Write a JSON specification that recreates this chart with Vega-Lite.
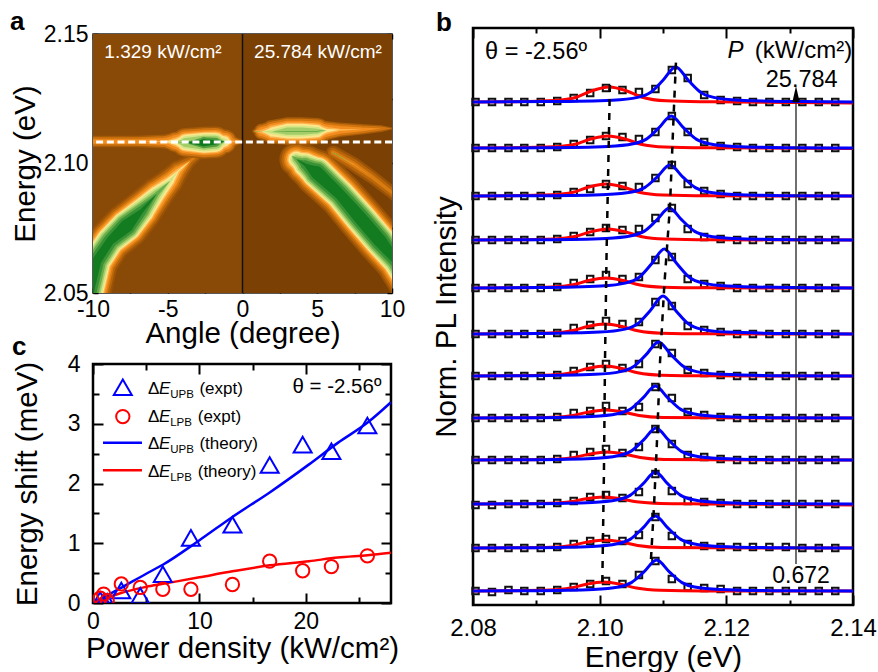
{"$schema":"https://vega.github.io/schema/vega-lite/v6.json","background":"white","padding":{"left":9,"top":8,"right":0,"bottom":0},
"config":{"font":"Liberation Sans","axis":{"labelColor":"#000","titleColor":"#000","labelFontSize":23,"titleFontSize":29.5,"titleFontWeight":"normal","tickColor":"#000","grid":false,"domain":false,"tickWidth":2,"labelOverlap":false,"labelBound":false,"labelFlush":false,"zindex":1},"text":{"color":"#000","font":"Liberation Sans"}},
"datasets":{
"one":[{"n":1}],
"low":[
{"b":"L","A":-10.6,"En":2.041,"w":0.9},{"b":"L","A":-9.75,"En":2.0624,"w":0.92},{"b":"L","A":-8.86,"En":2.0701,"w":0.9},{"b":"L","A":-7.75,"En":2.0759,"w":1},{"b":"L","A":-6.74,"En":2.0817,"w":0.82},{"b":"L","A":-5.74,"En":2.0882,"w":0.6},{"b":"L","A":-4.85,"En":2.0932,"w":0.42},{"b":"L","A":-4.3,"En":2.0971,"w":0.3},{"b":"L","A":-3.5,"En":2.101,"w":0.14},{"b":"L","A":-2.64,"En":2.1048,"w":0.1},
{"b":"G","A":6.05,"En":2.1042,"w":0.16},{"b":"G","A":7.4,"En":2.0998,"w":0.17},{"b":"G","A":8.73,"En":2.0945,"w":0.15},{"b":"G","A":9.87,"En":2.0894,"w":0.14},{"b":"G","A":10.5,"En":2.086,"w":0.12},
{"b":"R","A":3.05,"En":2.1035,"w":0.05},{"b":"R","A":3.3,"En":2.1029,"w":0.3},{"b":"R","A":3.6,"En":2.1016,"w":0.6},{"b":"R","A":4.2,"En":2.0995,"w":0.8},{"b":"R","A":4.96,"En":2.0965,"w":1},{"b":"R","A":6.52,"En":2.0881,"w":0.95},{"b":"R","A":7.86,"En":2.0791,"w":1},{"b":"R","A":9.2,"En":2.0701,"w":1},{"b":"R","A":10.3,"En":2.0624,"w":0.9},{"b":"R","A":11.2,"En":2.054,"w":0.9}],
"up":[
{"b":"L","A":-10.2,"En":2.1085,"w":0.22},{"b":"L","A":-7,"En":2.1085,"w":0.22},{"b":"L","A":-5.2,"En":2.1085,"w":0.28},{"b":"L","A":-4.5,"En":2.1083,"w":0.5},{"b":"L","A":-3.8,"En":2.1081,"w":0.85},{"b":"L","A":-2.6,"En":2.108,"w":1},{"b":"L","A":-1.8,"En":2.1082,"w":0.97},{"b":"L","A":-1.2,"En":2.1085,"w":0.65},{"b":"L","A":-0.8,"En":2.1085,"w":0.3},{"b":"L","A":-0.2,"En":2.1085,"w":0.1},
{"b":"R","A":0.8,"En":2.1125,"w":0.08},{"b":"R","A":1.3,"En":2.1123,"w":0.35},{"b":"R","A":2,"En":2.1122,"w":0.62},{"b":"R","A":3,"En":2.1125,"w":0.8},{"b":"R","A":4,"En":2.1125,"w":0.8},{"b":"R","A":5,"En":2.1125,"w":0.72},{"b":"R","A":5.6,"En":2.1127,"w":0.45},{"b":"R","A":6.5,"En":2.113,"w":0.3},{"b":"R","A":8,"En":2.1132,"w":0.2},{"b":"R","A":9.3,"En":2.1135,"w":0.12},{"b":"R","A":10,"En":2.1135,"w":0.05}],
"expt":[
{"p":0.672,"u":0.05,"l":0.08},{"p":1,"u":0.02,"l":0.15},{"p":1.33,"u":0.02,"l":0.04},{"p":2.66,"u":0.21,"l":0.32},{"p":4.44,"u":0.12,"l":0.26},{"p":6.56,"u":0.48,"l":0.23},{"p":9.2,"u":1.09,"l":0.23},{"p":13.1,"u":1.31,"l":0.31},{"p":16.6,"u":2.31,"l":0.7},{"p":19.7,"u":2.65,"l":0.54},{"p":22.4,"u":2.54,"l":0.61},{"p":25.78,"u":2.97,"l":0.79}],
"theory":[
{"p":0,"u":0,"l":0},{"p":2.5,"u":0.24,"l":0.16},{"p":5,"u":0.49,"l":0.27},{"p":6.56,"u":0.64,"l":0.32},{"p":10,"u":1.05,"l":0.43},{"p":13.1,"u":1.44,"l":0.53},{"p":16.6,"u":1.85,"l":0.63},{"p":20.3,"u":2.32,"l":0.7},{"p":23,"u":2.68,"l":0.76},{"p":25.8,"u":3.02,"l":0.8},{"p":28,"u":3.36,"l":0.84}],
"keys":[{"p":5.16,"y":3.58,"t":"Δ","s":"UPB","x2":7.25,"tail":"(expt)","x3":10},{"p":5.16,"y":3.12,"t":"Δ","s":"LPB","x2":7.25,"tail":"(expt)","x3":9.84},{"p":5.16,"y":2.66,"t":"Δ","s":"UPB","x2":7.25,"tail":"(theory)","x3":10},{"p":5.16,"y":2.2,"t":"Δ","s":"LPB","x2":7.25,"tail":"(theory)","x3":9.84}],
"sq":[
{"E":2.0804,"y":5.03},{"E":2.083,"y":5.03},{"E":2.0856,"y":5.03},{"E":2.0881,"y":5.03},{"E":2.0907,"y":5.03},{"E":2.0933,"y":5.04},{"E":2.0959,"y":5.07},{"E":2.0985,"y":5.12},{"E":2.101,"y":5.17},{"E":2.1036,"y":5.15},{"E":2.1062,"y":5.13},{"E":2.1088,"y":5.16},{"E":2.1114,"y":5.35},{"E":2.1139,"y":5.27},{"E":2.1165,"y":5.1},{"E":2.1191,"y":5.05},{"E":2.1217,"y":5.04},{"E":2.1242,"y":5.03},{"E":2.1268,"y":5.03},{"E":2.1294,"y":5.03},{"E":2.132,"y":5.03},{"E":2.1346,"y":5.03},{"E":2.1372,"y":5.03},
{"E":2.0804,"y":4.57},{"E":2.083,"y":4.57},{"E":2.0856,"y":4.57},{"E":2.0881,"y":4.57},{"E":2.0907,"y":4.57},{"E":2.0933,"y":4.58},{"E":2.0959,"y":4.61},{"E":2.0985,"y":4.65},{"E":2.101,"y":4.69},{"E":2.1036,"y":4.68},{"E":2.1062,"y":4.66},{"E":2.1088,"y":4.73},{"E":2.1114,"y":4.89},{"E":2.1139,"y":4.73},{"E":2.1165,"y":4.63},{"E":2.1191,"y":4.59},{"E":2.1217,"y":4.58},{"E":2.1242,"y":4.57},{"E":2.1268,"y":4.57},{"E":2.1294,"y":4.57},{"E":2.132,"y":4.57},{"E":2.1346,"y":4.57},{"E":2.1372,"y":4.57},
{"E":2.0804,"y":4.09},{"E":2.083,"y":4.09},{"E":2.0856,"y":4.09},{"E":2.0881,"y":4.09},{"E":2.0907,"y":4.09},{"E":2.0933,"y":4.1},{"E":2.0959,"y":4.13},{"E":2.0985,"y":4.16},{"E":2.101,"y":4.21},{"E":2.1036,"y":4.19},{"E":2.1062,"y":4.18},{"E":2.1088,"y":4.27},{"E":2.1114,"y":4.4},{"E":2.1139,"y":4.21},{"E":2.1165,"y":4.14},{"E":2.1191,"y":4.11},{"E":2.1217,"y":4.09},{"E":2.1242,"y":4.09},{"E":2.1268,"y":4.09},{"E":2.1294,"y":4.09},{"E":2.132,"y":4.09},{"E":2.1346,"y":4.09},{"E":2.1372,"y":4.09},
{"E":2.0804,"y":3.65},{"E":2.083,"y":3.65},{"E":2.0856,"y":3.65},{"E":2.0881,"y":3.65},{"E":2.0907,"y":3.65},{"E":2.0933,"y":3.66},{"E":2.0959,"y":3.69},{"E":2.0985,"y":3.73},{"E":2.101,"y":3.77},{"E":2.1036,"y":3.75},{"E":2.1062,"y":3.76},{"E":2.1088,"y":3.87},{"E":2.1114,"y":3.97},{"E":2.1139,"y":3.76},{"E":2.1165,"y":3.68},{"E":2.1191,"y":3.66},{"E":2.1217,"y":3.65},{"E":2.1242,"y":3.65},{"E":2.1268,"y":3.65},{"E":2.1294,"y":3.65},{"E":2.132,"y":3.65},{"E":2.1346,"y":3.65},{"E":2.1372,"y":3.65},
{"E":2.0804,"y":3.17},{"E":2.083,"y":3.17},{"E":2.0856,"y":3.17},{"E":2.0881,"y":3.17},{"E":2.0907,"y":3.17},{"E":2.0933,"y":3.18},{"E":2.0959,"y":3.22},{"E":2.0985,"y":3.26},{"E":2.101,"y":3.3},{"E":2.1036,"y":3.26},{"E":2.1062,"y":3.28},{"E":2.1088,"y":3.45},{"E":2.1114,"y":3.48},{"E":2.1139,"y":3.26},{"E":2.1165,"y":3.21},{"E":2.1191,"y":3.19},{"E":2.1217,"y":3.17},{"E":2.1242,"y":3.17},{"E":2.1268,"y":3.17},{"E":2.1294,"y":3.17},{"E":2.132,"y":3.17},{"E":2.1346,"y":3.17},{"E":2.1372,"y":3.17},
{"E":2.0804,"y":2.71},{"E":2.083,"y":2.71},{"E":2.0856,"y":2.71},{"E":2.0881,"y":2.71},{"E":2.0907,"y":2.71},{"E":2.0933,"y":2.72},{"E":2.0959,"y":2.77},{"E":2.0985,"y":2.8},{"E":2.101,"y":2.84},{"E":2.1036,"y":2.81},{"E":2.1062,"y":2.83},{"E":2.1088,"y":3.03},{"E":2.1114,"y":2.99},{"E":2.1139,"y":2.79},{"E":2.1165,"y":2.75},{"E":2.1191,"y":2.73},{"E":2.1217,"y":2.71},{"E":2.1242,"y":2.71},{"E":2.1268,"y":2.71},{"E":2.1294,"y":2.71},{"E":2.132,"y":2.71},{"E":2.1346,"y":2.71},{"E":2.1372,"y":2.71},
{"E":2.0804,"y":2.29},{"E":2.083,"y":2.29},{"E":2.0856,"y":2.29},{"E":2.0881,"y":2.29},{"E":2.0907,"y":2.29},{"E":2.0933,"y":2.3},{"E":2.0959,"y":2.34},{"E":2.0985,"y":2.38},{"E":2.101,"y":2.41},{"E":2.1036,"y":2.37},{"E":2.1062,"y":2.41},{"E":2.1088,"y":2.61},{"E":2.1114,"y":2.52},{"E":2.1139,"y":2.35},{"E":2.1165,"y":2.32},{"E":2.1191,"y":2.3},{"E":2.1217,"y":2.29},{"E":2.1242,"y":2.29},{"E":2.1268,"y":2.29},{"E":2.1294,"y":2.29},{"E":2.132,"y":2.29},{"E":2.1346,"y":2.29},{"E":2.1372,"y":2.29},
{"E":2.0804,"y":1.87},{"E":2.083,"y":1.87},{"E":2.0856,"y":1.87},{"E":2.0881,"y":1.87},{"E":2.0907,"y":1.87},{"E":2.0933,"y":1.88},{"E":2.0959,"y":1.92},{"E":2.0985,"y":1.94},{"E":2.101,"y":1.99},{"E":2.1036,"y":1.94},{"E":2.1062,"y":1.98},{"E":2.1088,"y":2.18},{"E":2.1114,"y":2.07},{"E":2.1139,"y":1.93},{"E":2.1165,"y":1.9},{"E":2.1191,"y":1.88},{"E":2.1217,"y":1.87},{"E":2.1242,"y":1.87},{"E":2.1268,"y":1.87},{"E":2.1294,"y":1.87},{"E":2.132,"y":1.87},{"E":2.1346,"y":1.87},{"E":2.1372,"y":1.87},
{"E":2.0804,"y":1.45},{"E":2.083,"y":1.45},{"E":2.0856,"y":1.45},{"E":2.0881,"y":1.45},{"E":2.0907,"y":1.45},{"E":2.0933,"y":1.46},{"E":2.0959,"y":1.5},{"E":2.0985,"y":1.53},{"E":2.101,"y":1.56},{"E":2.1036,"y":1.52},{"E":2.1062,"y":1.58},{"E":2.1088,"y":1.76},{"E":2.1114,"y":1.61},{"E":2.1139,"y":1.5},{"E":2.1165,"y":1.48},{"E":2.1191,"y":1.46},{"E":2.1217,"y":1.45},{"E":2.1242,"y":1.45},{"E":2.1268,"y":1.45},{"E":2.1294,"y":1.45},{"E":2.132,"y":1.45},{"E":2.1346,"y":1.45},{"E":2.1372,"y":1.45},
{"E":2.0804,"y":1},{"E":2.083,"y":1},{"E":2.0856,"y":1.01},{"E":2.0881,"y":1.01},{"E":2.0907,"y":1.01},{"E":2.0933,"y":1.02},{"E":2.0959,"y":1.04},{"E":2.0985,"y":1.08},{"E":2.101,"y":1.1},{"E":2.1036,"y":1.07},{"E":2.1062,"y":1.13},{"E":2.1088,"y":1.31},{"E":2.1114,"y":1.14},{"E":2.1139,"y":1.04},{"E":2.1165,"y":1.03},{"E":2.1191,"y":1.02},{"E":2.1217,"y":1.01},{"E":2.1242,"y":1.01},{"E":2.1268,"y":1.01},{"E":2.1294,"y":1.01},{"E":2.132,"y":1.01},{"E":2.1346,"y":1.01},{"E":2.1372,"y":1.01},
{"E":2.0804,"y":0.57},{"E":2.083,"y":0.57},{"E":2.0856,"y":0.57},{"E":2.0881,"y":0.57},{"E":2.0907,"y":0.57},{"E":2.0933,"y":0.58},{"E":2.0959,"y":0.61},{"E":2.0985,"y":0.64},{"E":2.101,"y":0.66},{"E":2.1036,"y":0.64},{"E":2.1062,"y":0.7},{"E":2.1088,"y":0.88},{"E":2.1114,"y":0.69},{"E":2.1139,"y":0.61},{"E":2.1165,"y":0.59},{"E":2.1191,"y":0.58},{"E":2.1217,"y":0.58},{"E":2.1242,"y":0.58},{"E":2.1268,"y":0.58},{"E":2.1294,"y":0.58},{"E":2.132,"y":0.57},{"E":2.1346,"y":0.57},{"E":2.1372,"y":0.57},
{"E":2.0804,"y":0.14},{"E":2.083,"y":0.13},{"E":2.0856,"y":0.15},{"E":2.0881,"y":0.14},{"E":2.0907,"y":0.14},{"E":2.0933,"y":0.15},{"E":2.0959,"y":0.18},{"E":2.0985,"y":0.21},{"E":2.101,"y":0.24},{"E":2.1036,"y":0.21},{"E":2.1062,"y":0.3},{"E":2.1088,"y":0.44},{"E":2.1114,"y":0.26},{"E":2.1139,"y":0.18},{"E":2.1165,"y":0.17},{"E":2.1191,"y":0.16},{"E":2.1217,"y":0.14},{"E":2.1242,"y":0.14},{"E":2.1268,"y":0.14},{"E":2.1294,"y":0.14},{"E":2.132,"y":0.14},{"E":2.1346,"y":0.14},{"E":2.1372,"y":0.14}],
"blue":[
{"s":1,"E":2.08,"y":5.03},{"s":1,"E":2.092,"y":5.034},{"s":1,"E":2.102,"y":5.048},{"s":1,"E":2.106,"y":5.076},{"s":1,"E":2.108,"y":5.125},{"s":1,"E":2.11,"y":5.247},{"s":1,"E":2.112,"y":5.38},{"s":1,"E":2.114,"y":5.247},{"s":1,"E":2.116,"y":5.125},{"s":1,"E":2.118,"y":5.076},{"s":1,"E":2.122,"y":5.048},{"s":1,"E":2.132,"y":5.034},{"s":1,"E":2.14,"y":5.03},
{"s":2,"E":2.08,"y":4.57},{"s":2,"E":2.0913,"y":4.573},{"s":2,"E":2.1013,"y":4.586},{"s":2,"E":2.1053,"y":4.612},{"s":2,"E":2.1073,"y":4.656},{"s":2,"E":2.1093,"y":4.768},{"s":2,"E":2.1113,"y":4.89},{"s":2,"E":2.1133,"y":4.768},{"s":2,"E":2.1153,"y":4.656},{"s":2,"E":2.1173,"y":4.612},{"s":2,"E":2.1213,"y":4.586},{"s":2,"E":2.1313,"y":4.573},{"s":2,"E":2.14,"y":4.57},
{"s":3,"E":2.08,"y":4.09},{"s":3,"E":2.0911,"y":4.093},{"s":3,"E":2.1011,"y":4.106},{"s":3,"E":2.1051,"y":4.13},{"s":3,"E":2.1071,"y":4.174},{"s":3,"E":2.1091,"y":4.282},{"s":3,"E":2.1111,"y":4.4},{"s":3,"E":2.1131,"y":4.282},{"s":3,"E":2.1151,"y":4.174},{"s":3,"E":2.1171,"y":4.13},{"s":3,"E":2.1211,"y":4.106},{"s":3,"E":2.1311,"y":4.093},{"s":3,"E":2.14,"y":4.09},
{"s":4,"E":2.08,"y":3.65},{"s":4,"E":2.091,"y":3.653},{"s":4,"E":2.101,"y":3.666},{"s":4,"E":2.105,"y":3.692},{"s":4,"E":2.107,"y":3.736},{"s":4,"E":2.109,"y":3.848},{"s":4,"E":2.111,"y":3.97},{"s":4,"E":2.113,"y":3.848},{"s":4,"E":2.115,"y":3.736},{"s":4,"E":2.117,"y":3.692},{"s":4,"E":2.121,"y":3.666},{"s":4,"E":2.131,"y":3.653},{"s":4,"E":2.14,"y":3.65},
{"s":5,"E":2.08,"y":3.17},{"s":5,"E":2.0902,"y":3.174},{"s":5,"E":2.1002,"y":3.19},{"s":5,"E":2.1042,"y":3.221},{"s":5,"E":2.1062,"y":3.275},{"s":5,"E":2.1082,"y":3.412},{"s":5,"E":2.1102,"y":3.56},{"s":5,"E":2.1122,"y":3.412},{"s":5,"E":2.1142,"y":3.275},{"s":5,"E":2.1162,"y":3.221},{"s":5,"E":2.1202,"y":3.19},{"s":5,"E":2.1302,"y":3.174},{"s":5,"E":2.14,"y":3.17},
{"s":6,"E":2.08,"y":2.71},{"s":6,"E":2.09,"y":2.714},{"s":6,"E":2.1,"y":2.729},{"s":6,"E":2.104,"y":2.759},{"s":6,"E":2.106,"y":2.813},{"s":6,"E":2.108,"y":2.946},{"s":6,"E":2.11,"y":3.09},{"s":6,"E":2.112,"y":2.946},{"s":6,"E":2.114,"y":2.813},{"s":6,"E":2.116,"y":2.759},{"s":6,"E":2.12,"y":2.729},{"s":6,"E":2.13,"y":2.714},{"s":6,"E":2.14,"y":2.71},
{"s":7,"E":2.08,"y":2.29},{"s":7,"E":2.0893,"y":2.293},{"s":7,"E":2.0993,"y":2.307},{"s":7,"E":2.1033,"y":2.334},{"s":7,"E":2.1053,"y":2.382},{"s":7,"E":2.1073,"y":2.501},{"s":7,"E":2.1093,"y":2.63},{"s":7,"E":2.1113,"y":2.501},{"s":7,"E":2.1133,"y":2.382},{"s":7,"E":2.1153,"y":2.334},{"s":7,"E":2.1193,"y":2.307},{"s":7,"E":2.1293,"y":2.293},{"s":7,"E":2.14,"y":2.29},
{"s":8,"E":2.08,"y":1.87},{"s":8,"E":2.0888,"y":1.873},{"s":8,"E":2.0988,"y":1.886},{"s":8,"E":2.1028,"y":1.912},{"s":8,"E":2.1048,"y":1.956},{"s":8,"E":2.1068,"y":2.068},{"s":8,"E":2.1088,"y":2.19},{"s":8,"E":2.1108,"y":2.068},{"s":8,"E":2.1128,"y":1.956},{"s":8,"E":2.1148,"y":1.912},{"s":8,"E":2.1188,"y":1.886},{"s":8,"E":2.1288,"y":1.873},{"s":8,"E":2.14,"y":1.87},
{"s":9,"E":2.08,"y":1.45},{"s":9,"E":2.0889,"y":1.453},{"s":9,"E":2.0989,"y":1.466},{"s":9,"E":2.1029,"y":1.492},{"s":9,"E":2.1049,"y":1.536},{"s":9,"E":2.1069,"y":1.648},{"s":9,"E":2.1089,"y":1.77},{"s":9,"E":2.1109,"y":1.648},{"s":9,"E":2.1129,"y":1.536},{"s":9,"E":2.1149,"y":1.492},{"s":9,"E":2.1189,"y":1.466},{"s":9,"E":2.1289,"y":1.453},{"s":9,"E":2.14,"y":1.45},
{"s":10,"E":2.08,"y":1.01},{"s":10,"E":2.0888,"y":1.013},{"s":10,"E":2.0988,"y":1.026},{"s":10,"E":2.1028,"y":1.052},{"s":10,"E":2.1048,"y":1.096},{"s":10,"E":2.1068,"y":1.208},{"s":10,"E":2.1088,"y":1.33},{"s":10,"E":2.1108,"y":1.208},{"s":10,"E":2.1128,"y":1.096},{"s":10,"E":2.1148,"y":1.052},{"s":10,"E":2.1188,"y":1.026},{"s":10,"E":2.1288,"y":1.013},{"s":10,"E":2.14,"y":1.01},
{"s":11,"E":2.08,"y":0.57},{"s":11,"E":2.0888,"y":0.573},{"s":11,"E":2.0988,"y":0.586},{"s":11,"E":2.1028,"y":0.612},{"s":11,"E":2.1048,"y":0.656},{"s":11,"E":2.1068,"y":0.768},{"s":11,"E":2.1088,"y":0.89},{"s":11,"E":2.1108,"y":0.768},{"s":11,"E":2.1128,"y":0.656},{"s":11,"E":2.1148,"y":0.612},{"s":11,"E":2.1188,"y":0.586},{"s":11,"E":2.1288,"y":0.573},{"s":11,"E":2.14,"y":0.57},
{"s":12,"E":2.08,"y":0.14},{"s":12,"E":2.089,"y":0.143},{"s":12,"E":2.099,"y":0.156},{"s":12,"E":2.103,"y":0.18},{"s":12,"E":2.105,"y":0.224},{"s":12,"E":2.107,"y":0.332},{"s":12,"E":2.109,"y":0.45},{"s":12,"E":2.111,"y":0.332},{"s":12,"E":2.113,"y":0.224},{"s":12,"E":2.115,"y":0.18},{"s":12,"E":2.119,"y":0.156},{"s":12,"E":2.129,"y":0.143},{"s":12,"E":2.14,"y":0.14}],
"red":[
{"s":1,"E":2.08,"y":5.03},{"s":1,"E":2.0865,"y":5.033},{"s":1,"E":2.093,"y":5.045},{"s":1,"E":2.0963,"y":5.078},{"s":1,"E":2.0988,"y":5.143},{"s":1,"E":2.1015,"y":5.18},{"s":1,"E":2.1042,"y":5.143},{"s":1,"E":2.1067,"y":5.078},{"s":1,"E":2.1105,"y":5.042},{"s":1,"E":2.1175,"y":5.032},{"s":1,"E":2.14,"y":5.02},
{"s":2,"E":2.08,"y":4.57},{"s":2,"E":2.0863,"y":4.572},{"s":2,"E":2.0928,"y":4.582},{"s":2,"E":2.0961,"y":4.608},{"s":2,"E":2.0986,"y":4.66},{"s":2,"E":2.1013,"y":4.69},{"s":2,"E":2.104,"y":4.66},{"s":2,"E":2.1065,"y":4.608},{"s":2,"E":2.1103,"y":4.58},{"s":2,"E":2.1173,"y":4.572},{"s":2,"E":2.14,"y":4.565},
{"s":3,"E":2.08,"y":4.09},{"s":3,"E":2.086,"y":4.092},{"s":3,"E":2.0925,"y":4.102},{"s":3,"E":2.0958,"y":4.128},{"s":3,"E":2.0983,"y":4.18},{"s":3,"E":2.101,"y":4.21},{"s":3,"E":2.1037,"y":4.18},{"s":3,"E":2.1062,"y":4.128},{"s":3,"E":2.11,"y":4.1},{"s":3,"E":2.117,"y":4.092},{"s":3,"E":2.14,"y":4.09},
{"s":4,"E":2.08,"y":3.65},{"s":4,"E":2.0863,"y":3.652},{"s":4,"E":2.0928,"y":3.661},{"s":4,"E":2.0961,"y":3.685},{"s":4,"E":2.0986,"y":3.733},{"s":4,"E":2.1013,"y":3.76},{"s":4,"E":2.104,"y":3.733},{"s":4,"E":2.1065,"y":3.685},{"s":4,"E":2.1103,"y":3.659},{"s":4,"E":2.1173,"y":3.652},{"s":4,"E":2.14,"y":3.65},
{"s":5,"E":2.08,"y":3.17},{"s":5,"E":2.086,"y":3.172},{"s":5,"E":2.0925,"y":3.18},{"s":5,"E":2.0958,"y":3.202},{"s":5,"E":2.0983,"y":3.245},{"s":5,"E":2.101,"y":3.27},{"s":5,"E":2.1037,"y":3.245},{"s":5,"E":2.1062,"y":3.202},{"s":5,"E":2.11,"y":3.178},{"s":5,"E":2.117,"y":3.172},{"s":5,"E":2.14,"y":3.17},
{"s":6,"E":2.08,"y":2.71},{"s":6,"E":2.0858,"y":2.712},{"s":6,"E":2.0923,"y":2.72},{"s":6,"E":2.0956,"y":2.742},{"s":6,"E":2.0981,"y":2.785},{"s":6,"E":2.1008,"y":2.81},{"s":6,"E":2.1035,"y":2.785},{"s":6,"E":2.106,"y":2.742},{"s":6,"E":2.1098,"y":2.718},{"s":6,"E":2.1168,"y":2.712},{"s":6,"E":2.14,"y":2.71},
{"s":7,"E":2.08,"y":2.29},{"s":7,"E":2.0858,"y":2.292},{"s":7,"E":2.0923,"y":2.3},{"s":7,"E":2.0956,"y":2.322},{"s":7,"E":2.0981,"y":2.365},{"s":7,"E":2.1008,"y":2.39},{"s":7,"E":2.1035,"y":2.365},{"s":7,"E":2.106,"y":2.322},{"s":7,"E":2.1098,"y":2.298},{"s":7,"E":2.1168,"y":2.292},{"s":7,"E":2.14,"y":2.29},
{"s":8,"E":2.08,"y":1.87},{"s":8,"E":2.086,"y":1.872},{"s":8,"E":2.0925,"y":1.878},{"s":8,"E":2.0958,"y":1.896},{"s":8,"E":2.0983,"y":1.93},{"s":8,"E":2.101,"y":1.95},{"s":8,"E":2.1037,"y":1.93},{"s":8,"E":2.1062,"y":1.896},{"s":8,"E":2.11,"y":1.876},{"s":8,"E":2.117,"y":1.872},{"s":8,"E":2.14,"y":1.87},
{"s":9,"E":2.08,"y":1.45},{"s":9,"E":2.0862,"y":1.452},{"s":9,"E":2.0927,"y":1.458},{"s":9,"E":2.096,"y":1.476},{"s":9,"E":2.0985,"y":1.51},{"s":9,"E":2.1012,"y":1.53},{"s":9,"E":2.1039,"y":1.51},{"s":9,"E":2.1064,"y":1.476},{"s":9,"E":2.1102,"y":1.456},{"s":9,"E":2.1172,"y":1.452},{"s":9,"E":2.14,"y":1.45},
{"s":10,"E":2.08,"y":1.01},{"s":10,"E":2.0856,"y":1.011},{"s":10,"E":2.0921,"y":1.017},{"s":10,"E":2.0954,"y":1.032},{"s":10,"E":2.0979,"y":1.063},{"s":10,"E":2.1006,"y":1.08},{"s":10,"E":2.1033,"y":1.063},{"s":10,"E":2.1058,"y":1.032},{"s":10,"E":2.1096,"y":1.016},{"s":10,"E":2.1166,"y":1.011},{"s":10,"E":2.14,"y":1},
{"s":11,"E":2.08,"y":0.57},{"s":11,"E":2.0858,"y":0.572},{"s":11,"E":2.0923,"y":0.578},{"s":11,"E":2.0956,"y":0.596},{"s":11,"E":2.0981,"y":0.63},{"s":11,"E":2.1008,"y":0.65},{"s":11,"E":2.1035,"y":0.63},{"s":11,"E":2.106,"y":0.596},{"s":11,"E":2.1098,"y":0.576},{"s":11,"E":2.1168,"y":0.572},{"s":11,"E":2.14,"y":0.57},
{"s":12,"E":2.08,"y":0.14},{"s":12,"E":2.0856,"y":0.142},{"s":12,"E":2.0921,"y":0.149},{"s":12,"E":2.0954,"y":0.169},{"s":12,"E":2.0979,"y":0.208},{"s":12,"E":2.1006,"y":0.23},{"s":12,"E":2.1033,"y":0.208},{"s":12,"E":2.1058,"y":0.169},{"s":12,"E":2.1096,"y":0.147},{"s":12,"E":2.1166,"y":0.141},{"s":12,"E":2.14,"y":0.14}],
"guides":[
{"g":"U","E":2.11205,"y":5.43},{"g":"U","E":2.11174,"y":4.99},{"g":"U","E":2.1111,"y":3.99},{"g":"U","E":2.1102,"y":3.19},{"g":"U","E":2.10953,"y":2.43},{"g":"U","E":2.109,"y":1.56},{"g":"U","E":2.10858,"y":0.99},{"g":"U","E":2.1081,"y":0.46},
{"g":"L","E":2.10163,"y":5.24},{"g":"L","E":2.1011,"y":3.56},{"g":"L","E":2.10084,"y":2.43},{"g":"L","E":2.10068,"y":1.36},{"g":"L","E":2.10042,"y":0.23}]
},
"spacing":23,
"hconcat":[{"spacing":-17,"vconcat":[{"spacing":-26,"vconcat":[
{"width":299,"height":1,"view":{"stroke":null},"data":{"name":"one"},"mark":{"type":"text","text":""},"encoding":{}},
{"width":299,"height":259,"view":{"stroke":"#222","strokeWidth":1.5},"resolve":{"axis":{"x":"independent","y":"independent"}},"layer":[
{"data":{"values":[{"a0":-10,"a1":0,"e0":2.05,"e1":2.15,"h":"low"},{"a0":0,"a1":10,"e0":2.05,"e1":2.15,"h":"high"}]},"mark":{"type":"rect"},"encoding":{
"x":{"field":"a0","type":"quantitative","scale":{"domain":[-10,10],"nice":false,"zero":false},"title":"Angle (degree)","axis":{"values":[-10,-5,0,5,10],"labelExpr":"toString(datum.value)","tickSize":5,"offset":-5,"labelPadding":5,"titlePadding":-2,"tickWidth":1.5}},"x2":{"field":"a1"},
"y":{"field":"e0","type":"quantitative","scale":{"domain":[2.05,2.15],"nice":false,"zero":false},"title":"Energy (eV)","axis":{"values":[2.05,2.1,2.15],"format":".2f","tickSize":5,"offset":-5,"labelPadding":5,"titlePadding":3,"tickWidth":1.5}},"y2":{"field":"e1"},
"color":{"field":"h","type":"nominal","scale":{"domain":["low","high"],"range":["#8a4a07","#7b4104"]},"legend":null}}},
{"data":{"name":"low"},"encoding":{"x":{"field":"A","type":"quantitative","axis":null},"y":{"field":"En","type":"quantitative","axis":null},"detail":{"field":"b"}},"resolve":{"scale":{"size":"independent"}},"layer":[
{"mark":{"type":"trail","clip":true,"color":"#995206"},"encoding":{"size":{"field":"w","type":"quantitative","legend":null,"scale":{"type":"pow","exponent":0.5,"domain":[0.02,1],"range":[0.01,46],"clamp":true}}}},
{"mark":{"type":"trail","clip":true,"color":"#b8650a"},"encoding":{"size":{"field":"w","type":"quantitative","legend":null,"scale":{"type":"pow","exponent":0.5,"domain":[0.05,1],"range":[0.01,42],"clamp":true}}}},
{"mark":{"type":"trail","clip":true,"color":"#d97b10"},"encoding":{"size":{"field":"w","type":"quantitative","legend":null,"scale":{"type":"pow","exponent":0.5,"domain":[0.1,1],"range":[0.01,38],"clamp":true}}}},
{"mark":{"type":"trail","clip":true,"color":"#f5921e"},"encoding":{"size":{"field":"w","type":"quantitative","legend":null,"scale":{"type":"pow","exponent":0.5,"domain":[0.15,1],"range":[0.01,35],"clamp":true}}}},
{"mark":{"type":"trail","clip":true,"color":"#ffb552"},"encoding":{"size":{"field":"w","type":"quantitative","legend":null,"scale":{"type":"pow","exponent":0.5,"domain":[0.22,1],"range":[0.01,32],"clamp":true}}}},
{"mark":{"type":"trail","clip":true,"color":"#fde88e"},"encoding":{"size":{"field":"w","type":"quantitative","legend":null,"scale":{"type":"pow","exponent":0.5,"domain":[0.28,1],"range":[0.01,30],"clamp":true}}}},
{"mark":{"type":"trail","clip":true,"color":"#d4e686"},"encoding":{"size":{"field":"w","type":"quantitative","legend":null,"scale":{"type":"pow","exponent":0.5,"domain":[0.36,1],"range":[0.01,28],"clamp":true}}}},
{"mark":{"type":"trail","clip":true,"color":"#a2cd68"},"encoding":{"size":{"field":"w","type":"quantitative","legend":null,"scale":{"type":"pow","exponent":0.5,"domain":[0.44,1],"range":[0.01,25],"clamp":true}}}},
{"mark":{"type":"trail","clip":true,"color":"#6aae4c"},"encoding":{"size":{"field":"w","type":"quantitative","legend":null,"scale":{"type":"pow","exponent":0.5,"domain":[0.52,1],"range":[0.01,22],"clamp":true}}}},
{"mark":{"type":"trail","clip":true,"color":"#3a9236"},"encoding":{"size":{"field":"w","type":"quantitative","legend":null,"scale":{"type":"pow","exponent":0.5,"domain":[0.62,1],"range":[0.01,18],"clamp":true}}}},
{"mark":{"type":"trail","clip":true,"color":"#137c20"},"encoding":{"size":{"field":"w","type":"quantitative","legend":null,"scale":{"type":"pow","exponent":0.5,"domain":[0.75,1],"range":[0.01,13],"clamp":true}}}}]},
{"data":{"name":"up"},"encoding":{"x":{"field":"A","type":"quantitative","axis":null},"y":{"field":"En","type":"quantitative","axis":null},"detail":{"field":"b"}},"resolve":{"scale":{"size":"independent"}},"layer":[
{"mark":{"type":"trail","clip":true,"color":"#a55a08"},"encoding":{"size":{"field":"w","type":"quantitative","legend":null,"scale":{"type":"pow","exponent":0.5,"domain":[0.03,1],"range":[0.01,32],"clamp":true}}}},
{"mark":{"type":"trail","clip":true,"color":"#d0740f"},"encoding":{"size":{"field":"w","type":"quantitative","legend":null,"scale":{"type":"pow","exponent":0.5,"domain":[0.06,1],"range":[0.01,29],"clamp":true}}}},
{"mark":{"type":"trail","clip":true,"color":"#f28c1e"},"encoding":{"size":{"field":"w","type":"quantitative","legend":null,"scale":{"type":"pow","exponent":0.5,"domain":[0.12,1],"range":[0.01,25],"clamp":true}}}},
{"mark":{"type":"trail","clip":true,"color":"#ffb04a"},"encoding":{"size":{"field":"w","type":"quantitative","legend":null,"scale":{"type":"pow","exponent":0.5,"domain":[0.25,1],"range":[0.01,22],"clamp":true}}}},
{"mark":{"type":"trail","clip":true,"color":"#fde58c"},"encoding":{"size":{"field":"w","type":"quantitative","legend":null,"scale":{"type":"pow","exponent":0.5,"domain":[0.36,1],"range":[0.01,20],"clamp":true}}}},
{"mark":{"type":"trail","clip":true,"color":"#d4e686"},"encoding":{"size":{"field":"w","type":"quantitative","legend":null,"scale":{"type":"pow","exponent":0.5,"domain":[0.5,1],"range":[0.01,17],"clamp":true}}}},
{"mark":{"type":"trail","clip":true,"color":"#a2cd68"},"encoding":{"size":{"field":"w","type":"quantitative","legend":null,"scale":{"type":"pow","exponent":0.5,"domain":[0.6,1],"range":[0.01,14],"clamp":true}}}},
{"mark":{"type":"trail","clip":true,"color":"#4f9c3e"},"encoding":{"size":{"field":"w","type":"quantitative","legend":null,"scale":{"type":"pow","exponent":0.5,"domain":[0.84,1],"range":[0.01,11],"clamp":true}}}},
{"mark":{"type":"trail","clip":true,"color":"#0f7a1c"},"encoding":{"size":{"field":"w","type":"quantitative","legend":null,"scale":{"type":"pow","exponent":0.5,"domain":[0.92,1],"range":[0.01,7],"clamp":true}}}}]},
{"data":{"name":"one"},"mark":{"type":"rule","color":"#111","strokeWidth":1.5},"encoding":{"x":{"datum":0,"type":"quantitative","axis":{"orient":"top","values":[-10,-5,0,5,10],"labels":false,"title":null,"tickSize":5,"offset":-5,"tickWidth":1.5}}}},
{"data":{"name":"one"},"mark":{"type":"rule","color":"#fff","strokeWidth":3,"strokeDash":[7,3.7]},"encoding":{"y":{"datum":2.1083,"type":"quantitative","axis":{"orient":"right","values":[2.05,2.1,2.15],"labels":false,"title":null,"tickSize":5,"offset":-5,"tickWidth":1.5}}}},
{"data":{"name":"one"},"mark":{"type":"text","text":""},"encoding":{"x":{"datum":0,"type":"quantitative","axis":{"orient":"bottom","values":[-7.5,-2.5,2.5,7.5],"labels":false,"title":null,"tickSize":3,"offset":-3,"tickWidth":1.5}},"y":{"datum":2.075,"type":"quantitative","axis":{"orient":"left","values":[2.075,2.125],"labels":false,"title":null,"tickSize":3,"offset":-3,"tickWidth":1.5}}}},
{"data":{"name":"one"},"mark":{"type":"text","text":""},"encoding":{"x":{"datum":0,"type":"quantitative","axis":{"orient":"top","values":[-7.5,-2.5,2.5,7.5],"labels":false,"title":null,"tickSize":3,"offset":-3,"tickWidth":1.5}},"y":{"datum":2.075,"type":"quantitative","axis":{"orient":"right","values":[2.075,2.125],"labels":false,"title":null,"tickSize":3,"offset":-3,"tickWidth":1.5}}}},
{"data":{"name":"one"},"mark":{"type":"text","color":"#fff","fontSize":19,"align":"center","baseline":"middle"},"encoding":{"x":{"datum":-5.32,"type":"quantitative","axis":null},"y":{"datum":2.143,"type":"quantitative","axis":null},"text":{"value":"1.329 kW/cm²"}}},
{"data":{"name":"one"},"mark":{"type":"text","color":"#fff","fontSize":19,"align":"center","baseline":"middle"},"encoding":{"x":{"datum":5.05,"type":"quantitative","axis":null},"y":{"datum":2.143,"type":"quantitative","axis":null},"text":{"value":"25.784 kW/cm²"}}},
{"data":{"name":"one"},"mark":{"type":"text","fontSize":26,"fontWeight":"bold","align":"left","baseline":"alphabetic"},"encoding":{"x":{"datum":-15.55,"type":"quantitative","axis":null},"y":{"datum":2.1516,"type":"quantitative","axis":null},"text":{"value":"a"}}}
]}]},
{"width":298,"height":239,"view":{"stroke":"#000","strokeWidth":2.5},"resolve":{"axis":{"x":"independent","y":"independent"}},"layer":[
{"data":{"name":"theory"},"mark":{"type":"line","color":"#0000ff","strokeWidth":2.5,"clip":true,"interpolate":"monotone"},"encoding":{"x":{"field":"p","type":"quantitative","scale":{"domain":[0,28],"nice":false,"zero":false},"title":"Power density (kW/cm²)","axis":{"values":[0,10,20],"labelExpr":"toString(datum.value)","tickSize":10,"offset":-10,"labelPadding":7,"titlePadding":1}},"y":{"field":"u","type":"quantitative","scale":{"domain":[0,4],"nice":false,"zero":false},"title":"Energy shift (meV)","axis":{"values":[0,1,2,3,4],"labelExpr":"toString(datum.value)","tickSize":10,"offset":-10,"labelPadding":13,"titlePadding":25}}}},
{"data":{"name":"theory"},"mark":{"type":"line","color":"#ff0000","strokeWidth":2.5,"clip":true,"interpolate":"monotone"},"encoding":{"x":{"field":"p","type":"quantitative","axis":null},"y":{"field":"l","type":"quantitative","axis":null}}},
{"data":{"name":"expt"},"mark":{"type":"point","shape":"triangle-up","size":324,"filled":false,"color":"#0000ff","strokeWidth":2,"clip":true,"opacity":1},"encoding":{"x":{"field":"p","type":"quantitative","axis":null},"y":{"field":"u","type":"quantitative","axis":null}}},
{"data":{"name":"expt"},"mark":{"type":"point","shape":"circle","size":177,"filled":false,"color":"#ff0000","strokeWidth":2,"clip":true,"opacity":1},"encoding":{"x":{"field":"p","type":"quantitative","axis":null},"y":{"field":"l","type":"quantitative","axis":null}}},
{"data":{"name":"one"},"mark":{"type":"point","shape":"triangle-up","size":324,"filled":false,"color":"#0000ff","strokeWidth":2,"opacity":1},"encoding":{"x":{"datum":2.8,"type":"quantitative","axis":null},"y":{"datum":3.61,"type":"quantitative","axis":null}}},
{"data":{"name":"one"},"mark":{"type":"point","shape":"circle","size":177,"filled":false,"color":"#ff0000","strokeWidth":2,"opacity":1},"encoding":{"x":{"datum":2.8,"type":"quantitative","axis":null},"y":{"datum":3.12,"type":"quantitative","axis":null}}},
{"data":{"values":[{"p":0.94,"q":4.6,"y":2.68}]},"mark":{"type":"rule","color":"#0000ff","strokeWidth":2.5},"encoding":{"x":{"field":"p","type":"quantitative","axis":null},"x2":{"field":"q"},"y":{"field":"y","type":"quantitative","axis":null}}},
{"data":{"values":[{"p":0.94,"q":4.6,"y":2.22}]},"mark":{"type":"rule","color":"#ff0000","strokeWidth":2.5},"encoding":{"x":{"field":"p","type":"quantitative","axis":null},"x2":{"field":"q"},"y":{"field":"y","type":"quantitative","axis":null}}},
{"data":{"name":"keys"},"mark":{"type":"text","fontSize":17,"align":"left","baseline":"middle"},"encoding":{"x":{"field":"p","type":"quantitative","axis":null},"y":{"field":"y","type":"quantitative","axis":null},"text":{"field":"t"}}},
{"data":{"name":"keys"},"mark":{"type":"text","fontSize":17,"fontStyle":"italic","align":"left","baseline":"middle","dx":11},"encoding":{"x":{"field":"p","type":"quantitative","axis":null},"y":{"field":"y","type":"quantitative","axis":null},"text":{"value":"E"}}},
{"data":{"name":"keys"},"mark":{"type":"text","fontSize":11.5,"align":"left","baseline":"middle","dy":6},"encoding":{"x":{"field":"x2","type":"quantitative","axis":null},"y":{"field":"y","type":"quantitative","axis":null},"text":{"field":"s"}}},
{"data":{"name":"keys"},"mark":{"type":"text","fontSize":17,"align":"left","baseline":"middle"},"encoding":{"x":{"field":"x3","type":"quantitative","axis":null},"y":{"field":"y","type":"quantitative","axis":null},"text":{"field":"tail"}}},
{"data":{"name":"one"},"mark":{"type":"text","fontSize":20.5,"align":"right","baseline":"middle"},"encoding":{"x":{"datum":27.1,"type":"quantitative","axis":{"orient":"top","values":[0,10,20],"labels":false,"title":null,"tickSize":10,"offset":-10}},"y":{"datum":3.61,"type":"quantitative","axis":{"orient":"right","values":[0,1,2,3,4],"labels":false,"title":null,"tickSize":10,"offset":-10}},"text":{"value":"θ = -2.56º"}}},
{"data":{"name":"one"},"mark":{"type":"text","text":""},"encoding":{"x":{"datum":0,"type":"quantitative","axis":{"orient":"bottom","values":[5,15,25],"labels":false,"title":null,"tickSize":6,"offset":-6}},"y":{"datum":1,"type":"quantitative","axis":{"orient":"left","values":[0.5,1.5,2.5,3.5],"labels":false,"title":null,"tickSize":6,"offset":-6}}}},
{"data":{"name":"one"},"mark":{"type":"text","text":""},"encoding":{"x":{"datum":0,"type":"quantitative","axis":{"orient":"top","values":[5,15,25],"labels":false,"title":null,"tickSize":6,"offset":-6}},"y":{"datum":1,"type":"quantitative","axis":{"orient":"right","values":[0.5,1.5,2.5,3.5],"labels":false,"title":null,"tickSize":6,"offset":-6}}}},
{"data":{"name":"one"},"mark":{"type":"text","fontSize":26,"fontWeight":"bold","align":"left","baseline":"alphabetic"},"encoding":{"x":{"datum":-7.62,"type":"quantitative","axis":null},"y":{"datum":4.15,"type":"quantitative","axis":null},"text":{"value":"c"}}}
]}]},
{"width":380,"height":577,"view":{"stroke":"#000","strokeWidth":2.5},"resolve":{"axis":{"x":"independent","y":"independent"}},"layer":[
{"data":{"name":"sq"},"mark":{"type":"point","shape":"square","size":42,"filled":false,"color":"#111","strokeWidth":2,"opacity":1},"encoding":{"x":{"field":"E","type":"quantitative","scale":{"domain":[2.08,2.14],"nice":false,"zero":false},"title":"Energy (eV)","axis":{"values":[2.08,2.1,2.12,2.14],"format":".2f","labelFontSize":24,"tickSize":10,"offset":-10,"labelPadding":11,"titlePadding":3}},"y":{"field":"y","type":"quantitative","scale":{"domain":[0,5.77],"nice":false,"zero":false},"title":"Norm. PL Intensity","axis":{"values":[],"ticks":false,"labels":false,"titlePadding":12}}}},
{"data":{"name":"red"},"mark":{"type":"line","color":"#ff0000","strokeWidth":3,"interpolate":"monotone"},"encoding":{"x":{"field":"E","type":"quantitative","axis":null},"y":{"field":"y","type":"quantitative","axis":null},"detail":{"field":"s"}}},
{"data":{"name":"blue"},"mark":{"type":"line","color":"#0000ff","strokeWidth":3,"interpolate":"monotone"},"encoding":{"x":{"field":"E","type":"quantitative","axis":null},"y":{"field":"y","type":"quantitative","axis":null},"detail":{"field":"s"}}},
{"data":{"name":"guides"},"mark":{"type":"line","color":"#000","strokeWidth":2.5,"strokeDash":[7,7]},"encoding":{"x":{"field":"E","type":"quantitative","axis":null},"y":{"field":"y","type":"quantitative","axis":null},"detail":{"field":"g"}}},
{"data":{"values":[{"E":2.131,"y0":0.41,"y1":5.09}]},"mark":{"type":"rule","color":"#222","strokeWidth":1.3},"encoding":{"x":{"field":"E","type":"quantitative","axis":{"orient":"top","values":[2.08,2.1,2.12,2.14],"labels":false,"title":null,"tickSize":10,"offset":-10}},"y":{"field":"y0","type":"quantitative","axis":null},"y2":{"field":"y1"}}},
{"data":{"name":"one"},"mark":{"type":"text","text":""},"encoding":{"x":{"datum":2.09,"type":"quantitative","axis":{"orient":"bottom","values":[2.09,2.11,2.13],"labels":false,"title":null,"tickSize":5,"offset":-5}},"y":{"datum":1,"type":"quantitative","axis":null}}},
{"data":{"name":"one"},"mark":{"type":"text","text":""},"encoding":{"x":{"datum":2.09,"type":"quantitative","axis":{"orient":"top","values":[2.09,2.11,2.13],"labels":false,"title":null,"tickSize":5,"offset":-5}},"y":{"datum":1,"type":"quantitative","axis":null}}},
{"data":{"name":"one"},"mark":{"type":"point","shape":"M0,-1L-0.45,1L0.45,1Z","size":256,"filled":true,"color":"#000","opacity":1},"encoding":{"x":{"datum":2.131,"type":"quantitative","axis":null},"y":{"datum":5.11,"type":"quantitative","axis":null}}},
{"data":{"name":"one"},"mark":{"type":"text","fontSize":23.5,"align":"left","baseline":"middle"},"encoding":{"x":{"datum":2.0819,"type":"quantitative","axis":null},"y":{"datum":5.53,"type":"quantitative","axis":null},"text":{"value":"θ = -2.56º"}}},
{"data":{"name":"one"},"mark":{"type":"text","fontSize":24,"fontStyle":"italic","align":"left","baseline":"middle"},"encoding":{"x":{"datum":2.1202,"type":"quantitative","axis":null},"y":{"datum":5.54,"type":"quantitative","axis":null},"text":{"value":"P"}}},
{"data":{"name":"one"},"mark":{"type":"text","fontSize":24,"align":"left","baseline":"middle"},"encoding":{"x":{"datum":2.1245,"type":"quantitative","axis":null},"y":{"datum":5.54,"type":"quantitative","axis":null},"text":{"value":"(kW/cm²)"}}},
{"data":{"name":"one"},"mark":{"type":"text","fontSize":23.5,"align":"center","baseline":"middle"},"encoding":{"x":{"datum":2.1319,"type":"quantitative","axis":null},"y":{"datum":5.25,"type":"quantitative","axis":null},"text":{"value":"25.784"}}},
{"data":{"name":"one"},"mark":{"type":"text","fontSize":23,"align":"center","baseline":"middle"},"encoding":{"x":{"datum":2.1318,"type":"quantitative","axis":null},"y":{"datum":0.293,"type":"quantitative","axis":null},"text":{"value":"0.672"}}},
{"data":{"name":"one"},"mark":{"type":"text","fontSize":26,"fontWeight":"bold","align":"left","baseline":"alphabetic"},"encoding":{"x":{"datum":2.07416,"type":"quantitative","axis":null},"y":{"datum":5.74,"type":"quantitative","axis":null},"text":{"value":"b"}}}
]}]}
